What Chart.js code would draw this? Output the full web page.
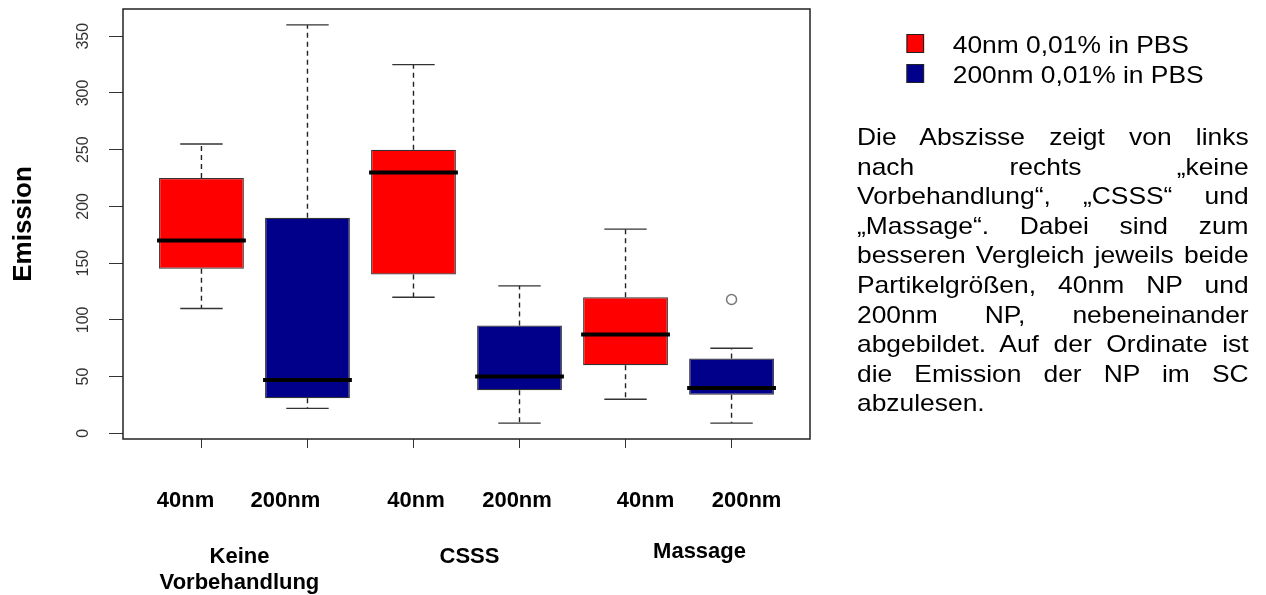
<!DOCTYPE html>
<html>
<head>
<meta charset="utf-8">
<script src="https://cdn.jsdelivr.net/npm/chart.js@4.4.0/dist/chart.umd.min.js"></script>
<style>
  html, body { margin: 0; padding: 0; background: #fff; }
  #wrap { position: relative; width: 1266px; height: 595px; overflow: hidden; }
  #chart { position: absolute; left: 0; top: 0; }
  #side {
    position: absolute; left: 857px; top: 0; width: 356px;
    transform: scaleX(1.1); transform-origin: 0 0;
    font-family: "Liberation Sans", Arial, sans-serif; font-size: 24px; color: #000;
  }
  #keys { position: absolute; top: 30px; left: 0; width: 356px; }
  .key { position: relative; height: 30px; line-height: 30px; padding-left: 87px; }
  .key .sw { position: absolute; left: 45px; top: 4px; width: 14px; height: 17px; border: 1px solid #222; }
  #note { position: absolute; top: 122px; left: 0; width: 356px; line-height: 29.6px; }
  #note div { text-align: justify; text-align-last: justify; }
  #note div:last-child { text-align: left; text-align-last: left; }
</style>
</head>
<body>
<div id="wrap">
  <canvas id="chart" width="1266" height="595"></canvas>
  <div id="side">
    <div id="keys"></div>
    <div id="note"></div>
  </div>
</div>
<script>
// particle size under each box, and the three pre-treatments
const categories = ['40nm', '200nm', '40nm', '200nm', '40nm', '200nm'];
const groups = [['Keine', 'Vorbehandlung'], ['CSSS'], ['Massage']];

// box statistics per box
const whiskerLow  = [110, 22, 120, 9, 30, 9];
const q1          = [145, 31, 140, 38, 60, 34];
const median      = [170, 47, 230, 50, 87, 40];
const q3          = [225, 190, 250, 95, 120, 66];
const whiskerHigh = [255, 360, 325, 130, 180, 75];
const outliers    = [[], [], [], [], [], [118]];

const yTicks = [0, 50, 100, 150, 200, 250, 300, 350];

const seriesNames = ['40nm 0,01% in PBS', '200nm 0,01% in PBS'];
const seriesColors = ['#ff0000', '#00008b'];

const noteLines = [
  'Die Abszisse zeigt von links',
  'nach rechts \u201ekeine',
  'Vorbehandlung\u201c, \u201eCSSS\u201c und',
  '\u201eMassage\u201c. Dabei sind zum',
  'besseren Vergleich jeweils beide',
  'Partikelgr\u00f6\u00dfen, 40nm NP und',
  '200nm NP, nebeneinander',
  'abgebildet. Auf der Ordinate ist',
  'die Emission der NP im SC',
  'abzulesen.'
];

// legend + explanation on the right
const keys = document.getElementById('keys');
seriesNames.forEach((name, i) => {
  const row = document.createElement('div');
  row.className = 'key';
  row.innerHTML = '<span class="sw" style="background:' + seriesColors[i] + '"></span>' + name;
  keys.appendChild(row);
});
const note = document.getElementById('note');
noteLines.forEach(t => {
  const d = document.createElement('div');
  d.textContent = t;
  note.appendChild(d);
});

const positions = categories.map((c, i) => i + 1);
const boxColors = categories.map((c, i) => seriesColors[i % 2]);

const boxes = positions.map((p, i) => ({ x: p, y: [q1[i], q3[i]] }));
const outlierPoints = [];
outliers.forEach((list, i) => list.forEach(v => outlierPoints.push({ x: positions[i], y: v })));

// hand placed label nudges (px) under the axis
const sizeNudge = [-16, -22, 2.5, -2.5, 20, 15];
const groupNudge = [-15, 3, 21];
const groupBaseline = [124, 124, 119];

const FONT = '"Liberation Sans", Arial, sans-serif';
Chart.defaults.font.family = FONT;

const boxPlotParts = {
  id: 'boxPlotParts',
  afterDatasetsDraw(chart) {
    const { ctx, chartArea, scales: { x, y } } = chart;
    const line = (x1, y1, x2, y2) => {
      ctx.beginPath(); ctx.moveTo(x1, y1); ctx.lineTo(x2, y2); ctx.stroke();
    };
    ctx.save();
    positions.forEach((pos, i) => {
      const cx = x.getPixelForValue(pos);
      const capW = x.getPixelForValue(pos + 0.2) - cx;
      const boxW = x.getPixelForValue(pos + 0.4) - cx;
      const yHi = y.getPixelForValue(whiskerHigh[i]);
      const yLo = y.getPixelForValue(whiskerLow[i]);

      // dashed whiskers
      ctx.strokeStyle = '#222';
      ctx.lineWidth = 1.4;
      ctx.setLineDash([5, 4]);
      line(cx, y.getPixelForValue(q3[i]), cx, yHi);
      line(cx, y.getPixelForValue(q1[i]), cx, yLo);
      ctx.setLineDash([]);

      // staples
      ctx.strokeStyle = '#333';
      line(cx - capW, yHi, cx + capW, yHi);
      line(cx - capW, yLo, cx + capW, yLo);

      // median
      ctx.strokeStyle = '#000';
      ctx.lineWidth = 4;
      const ym = y.getPixelForValue(median[i]);
      line(cx - boxW - 2, ym, cx + boxW + 2, ym);
    });

    // plot frame
    ctx.strokeStyle = '#222';
    ctx.lineWidth = 1.5;
    ctx.strokeRect(chartArea.left, chartArea.top, chartArea.right - chartArea.left, chartArea.bottom - chartArea.top);

    // size labels and treatment labels
    ctx.fillStyle = '#000';
    ctx.textAlign = 'center';
    ctx.textBaseline = 'alphabetic';
    ctx.font = 'bold 22px ' + FONT;
    categories.forEach((c, i) => {
      ctx.fillText(c, x.getPixelForValue(positions[i]) + sizeNudge[i], chartArea.bottom + 67.5);
    });
    groups.forEach((g, k) => {
      const mid = (x.getPixelForValue(positions[2 * k]) + x.getPixelForValue(positions[2 * k + 1])) / 2;
      g.forEach((t, j) => {
        ctx.fillText(t, mid + groupNudge[k], chartArea.bottom + groupBaseline[k] + j * 26);
      });
    });
    ctx.restore();
  }
};

new Chart(document.getElementById('chart'), {
  type: 'bar',
  data: {
    datasets: [{
      label: 'Boxen',
      data: boxes,
      backgroundColor: boxColors,
      borderColor: '#333',
      borderWidth: 1.2,
      borderSkipped: false,
      barPercentage: 0.8,
      categoryPercentage: 1.0
    }, {
      type: 'scatter',
      label: 'Ausreißer',
      data: outlierPoints,
      pointStyle: 'circle',
      pointRadius: 5,
      borderColor: '#777',
      backgroundColor: 'rgba(0,0,0,0)',
      borderWidth: 1.5
    }]
  },
  options: {
    responsive: false,
    animation: false,
    devicePixelRatio: 1,
    layout: { padding: { top: 9, right: 456, bottom: 0, left: 0 } },
    plugins: {
      legend: { display: false },
      tooltip: { enabled: false }
    },
    scales: {
      x: {
        type: 'linear',
        min: 0.26,
        max: 6.74,
        offset: false,
        afterBuildTicks: s => { s.ticks = positions.map(v => ({ value: v })); },
        afterFit: s => { s.height = 156; s.paddingLeft = 0; s.paddingRight = 0; },
        ticks: { display: false },
        grid: { offset: false, drawOnChartArea: false, drawTicks: true, tickLength: 9, color: '#333' },
        border: { display: false }
      },
      y: {
        min: -5,
        max: 374,
        afterBuildTicks: s => { s.ticks = yTicks.map(v => ({ value: v })); },
        afterFit: s => { s.width = 123; s.paddingTop = 0; s.paddingBottom = 0; },
        ticks: {
          minRotation: 90,
          maxRotation: 90,
          crossAlign: 'center',
          padding: 12,
          color: '#333',
          font: { size: 16 }
        },
        grid: { drawOnChartArea: false, drawTicks: true, tickLength: 14, color: '#333' },
        border: { display: false },
        title: {
          display: true,
          text: 'Emission',
          color: '#000',
          font: { size: 26, weight: 'bold' },
          padding: { top: 8, bottom: 0 }
        }
      }
    }
  },
  plugins: [boxPlotParts]
});
</script>
</body>
</html>
